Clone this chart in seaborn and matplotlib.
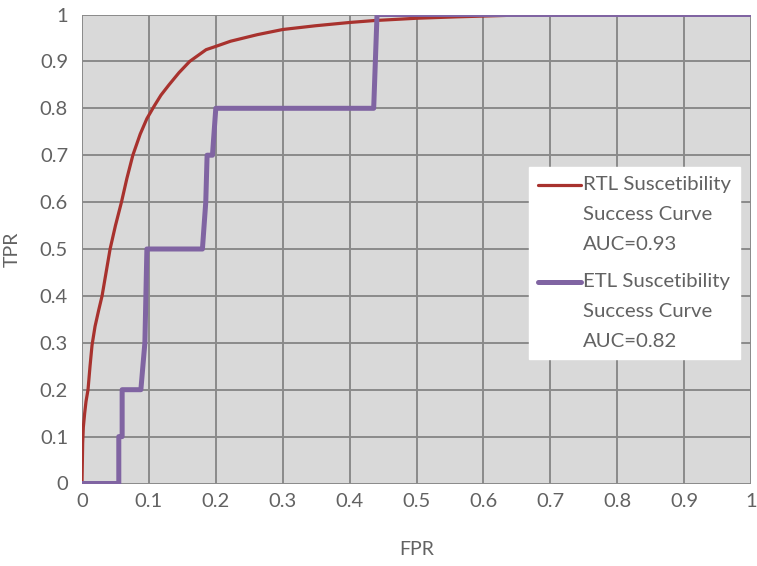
import matplotlib
matplotlib.use("Agg")
import matplotlib.pyplot as plt
import seaborn as sns
import pandas as pd

# ---- data ----
rtl_fpr = [0.0, 0.001, 0.002, 0.004, 0.006, 0.009, 0.012, 0.015, 0.0195, 0.025, 0.030,
           0.036, 0.042, 0.050, 0.059, 0.067, 0.076, 0.087, 0.097, 0.108, 0.118,
           0.130, 0.145, 0.161, 0.1855, 0.200, 0.222, 0.262, 0.300, 0.349, 0.400,
           0.436, 0.500, 0.560, 0.633, 0.645, 1.0]
rtl_tpr = [0.0, 0.086, 0.120, 0.150, 0.175, 0.200, 0.250, 0.295, 0.335, 0.370, 0.400,
           0.450, 0.500, 0.550, 0.600, 0.650, 0.700, 0.745, 0.778, 0.805, 0.828,
           0.850, 0.876, 0.900, 0.925, 0.932, 0.943, 0.957, 0.968, 0.976, 0.983,
           0.987, 0.992, 0.995, 0.998, 1.0, 1.0]
etl_fpr = [0.0, 0.055, 0.055, 0.060, 0.060, 0.088, 0.094, 0.097, 0.180, 0.185, 0.187,
           0.195, 0.200, 0.436, 0.441, 1.0]
etl_tpr = [0.0, 0.0, 0.1, 0.1, 0.2, 0.2, 0.3, 0.5, 0.5, 0.6, 0.7,
           0.7, 0.8, 0.8, 1.0, 1.0]
rtl_label = "RTL Suscetibility\nSuccess Curve\nAUC=0.93"
etl_label = "ETL Suscetibility\nSuccess Curve\nAUC=0.82"
tick_vals = [0.0, 0.1, 0.2, 0.3, 0.4, 0.5, 0.6, 0.7, 0.8, 0.9, 1.0]
tick_labels = ["0", "0.1", "0.2", "0.3", "0.4", "0.5", "0.6", "0.7", "0.8", "0.9", "1"]

sns.set_theme(style="white")
plt.rcParams['font.family'] = ['Lato', 'DejaVu Sans']

RED = "#a8322e"
PURPLE = "#8064a2"
TXT = "#626262"

W, H = 757, 566
x0, x1, y0, y1 = 82.0, 751.0, 483.5, 14.5
fig = plt.figure(figsize=(W / 100, H / 100), dpi=100)
ax = fig.add_axes([x0 / W, 1 - y0 / H, (x1 - x0) / W, (y0 - y1) / H])
ax.set_facecolor("#d9d9d9")

rtl = pd.DataFrame({"FPR": rtl_fpr, "TPR": rtl_tpr})
etl = pd.DataFrame({"FPR": etl_fpr, "TPR": etl_tpr})
sns.lineplot(data=rtl, x="FPR", y="TPR", sort=False, estimator=None, ax=ax,
             color=RED, linewidth=2.3, label=rtl_label, zorder=3)
sns.lineplot(data=etl, x="FPR", y="TPR", sort=False, estimator=None, ax=ax,
             color=PURPLE, linewidth=3.6, label=etl_label, zorder=4)

ax.set_xlim(0, 1)
ax.set_ylim(0, 1)
ax.set_xticks(tick_vals)
ax.set_xticklabels(tick_labels)
ax.set_yticks(tick_vals)
ax.set_yticklabels(tick_labels)
ax.grid(True, color="#8a8a8a", linewidth=1.4)
ax.set_axisbelow(True)
for s in ax.spines.values():
    s.set_visible(False)
ax.tick_params(axis="both", length=0, labelsize=14.5, labelcolor=TXT)
ax.tick_params(axis="y", pad=10)
ax.tick_params(axis="x", pad=7)
ax.set_xlabel("FPR", fontsize=14, color=TXT, labelpad=22)
ax.set_ylabel("TPR", fontsize=14, color=TXT, labelpad=14)

leg = ax.legend(loc="upper left", bbox_to_anchor=(529 / W, 1 - 167 / H),
                bbox_transform=fig.transFigure, fontsize=14.7, frameon=True,
                fancybox=False, framealpha=1, edgecolor="white",
                handlelength=2.1, handletextpad=0.1, labelspacing=0.97,
                borderpad=0.45, borderaxespad=0, handleheight=1.3)
leg.get_frame().set_facecolor("white")
for t in leg.get_texts():
    t.set_color(TXT)
    t.set_linespacing(1.92)
# align handles to the first text line
try:
    for col in leg._legend_handle_box.get_children():
        for entry in col.get_children():
            entry.align = "top"
except Exception:
    pass

fig.savefig("out.png", dpi=100)
